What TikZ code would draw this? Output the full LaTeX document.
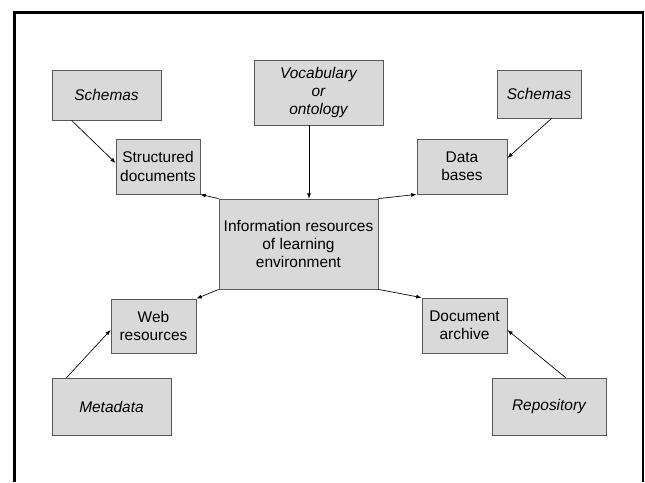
\documentclass[tikz,border=0pt]{standalone}
\usepackage{fontspec}
\setmainfont{Liberation Sans}
\usetikzlibrary{arrows.meta}

\begin{document}
\begin{tikzpicture}[x=0.75pt,y=-0.75pt,
		res/.style={rectangle,draw=black!65,fill=black!15,line width=0.6pt,align=center,inner sep=0pt,
			font=\fontsize{11.6}{13.6}\selectfont},
		src/.style={res,font=\fontsize{11.6}{13.6}\selectfont\itshape},
		arr/.style={-{Latex[length=4pt,width=3pt]},line width=0.5pt}]
		\useasboundingbox (0,0) rectangle (645,482);
		% Frame, open at the bottom
		\draw[line width=1.6pt] (14.5,482) -- (14.5,12.5) -- (643,12.5) -- (643,482);

		% Central node
		\node[res,minimum width=159*0.75pt,minimum height=90*0.75pt] (info) at (298.5,244)
			{Information resources\\of learning\\environment};

		% Kinds of resources
		\node[res,minimum width=84*0.75pt,minimum height=55*0.75pt] (struct) at (158,166.5) {Structured\\documents};
		\node[res,minimum width=90*0.75pt,minimum height=55*0.75pt] (db) at (462,166.5) {Data\\bases};
		\node[res,minimum width=85*0.75pt,minimum height=54*0.75pt] (web) at (153.5,326) {Web\\resources};
		\node[res,minimum width=85*0.75pt,minimum height=55*0.75pt] (archive) at (464.5,325.5) {Document\\archive};

		% Descriptions
		\node[src,minimum width=109*0.75pt,minimum height=50*0.75pt] (schemas_l) at (106.5,95) {Schemas};
		\node[src,minimum width=129*0.75pt,minimum height=65*0.75pt] (vocab) at (318.5,92.5) {Vocabulary\\or\\ontology};
		\node[src,minimum width=84*0.75pt,minimum height=48*0.75pt] (schemas_r) at (539,94) {Schemas};
		\node[src,minimum width=119*0.75pt,minimum height=57*0.75pt] (metadata) at (111.5,406.5) {Metadata};
		\node[src,minimum width=114*0.75pt,minimum height=57*0.75pt] (repo) at (549,406.5) {Repository};

		% Arrows from the centre
		\draw[arr] (info.north west) -- (struct.south east);
		\draw[arr] (info.north east) -- (db.south west);
		\draw[arr] (info.south west) -- (web.north east);
		\draw[arr] (info.south east) -- (archive.north west);

		% Arrows from the descriptions
		\draw[arr] ([shift={(20,0)}]schemas_l.south west) -- ([shift={(0,-3.5)}]struct.west);
		\draw[arr] ([shift={(-9.5,0)}]vocab.south) -- ([shift={(10.5,0)}]info.north);
		\draw[arr] ([shift={(55,0)}]schemas_r.south west) -- ([shift={(0,-8.5)}]db.east);
		\draw[arr] ([shift={(15,0)}]metadata.north west) -- ([shift={(0,4)}]web.west);
		\draw[arr] ([shift={(74,0)}]repo.north west) -- ([shift={(0,4.5)}]archive.east);
\end{tikzpicture}
\end{document}
